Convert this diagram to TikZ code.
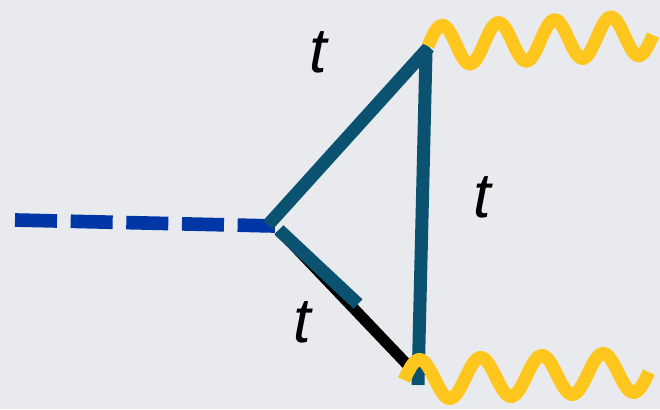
\documentclass[tikz,border=0pt]{standalone}
\usepackage{fontspec}
\setmainfont{Liberation Sans}
\definecolor{bgcol}{HTML}{E9EAEE}
\definecolor{topteal}{HTML}{0A5270}
\definecolor{higgsblue}{HTML}{0036A6}
\definecolor{gluonyellow}{HTML}{FFC61E}

\begin{document}
\begin{tikzpicture}[
    x=0.03cm, y=-0.03cm,
    fermion/.style={draw=topteal, line width=0.39cm},
    heavy/.style={draw=black, line width=0.33cm},
    scalar/.style={draw=higgsblue, line width=0.41cm, dash pattern=on 1.26cm off 0.41cm},
    photon/.style={draw=gluonyellow, line width=0.39cm, line join=round},
    tlabel/.style={inner sep=0pt, font=\fontsize{54}{60}\selectfont\itshape}
]
  \fill[bgcol] (0,0) rectangle (660,409);
  \useasboundingbox (0,0) rectangle (660,409);

  % vertices of the loop
  \coordinate (in) at (15,220);
  \coordinate (v) at (275,226);
  \coordinate (vt) at (268,225);
  \coordinate (vb) at (279,230);
  \coordinate (a) at (429,47);
  \coordinate (at) at (426,52);
  \coordinate (b) at (418,385);
  \coordinate (bk) at (420,378);
  \coordinate (m) at (358,304);
  % photon starts
  \coordinate (ga) at (428,46);
  \coordinate (gb) at (404,380);

  \draw[scalar] (in) -- (v);
  \draw[heavy] (vb) -- (bk);
  \draw[fermion] (vb) -- (m);
  \draw[fermion] (vt) -- (a);
  \draw[fermion] (at) -- (b);

  % four periods each
  \draw[photon, shift={(ga)}] plot[variable=\k, domain=0:4, samples=161, smooth]
      ({56.25*\k}, {-2.75*\k - 20*sin(360*\k)});
  \draw[photon, shift={(gb)}] plot[variable=\k, domain=0:4, samples=161, smooth]
      ({61.25*\k}, {-2*\k - 20*sin(360*\k)});

  \node[tlabel] (t1) at (318,52) {t};
  \node[tlabel] (t2) at (482,197) {t};
  \node[tlabel] (t3) at (302,322) {t};
\end{tikzpicture}
\end{document}
